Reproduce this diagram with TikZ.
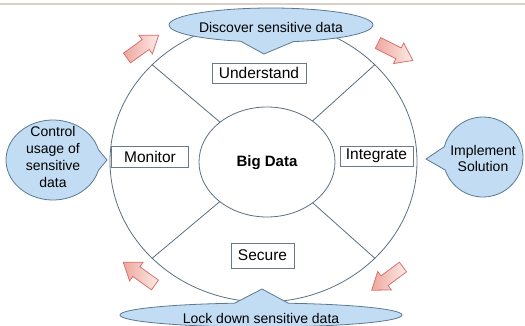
\documentclass[tikz,border=0pt]{standalone}
\usepackage{fontspec}
\setmainfont{Liberation Sans}
\usetikzlibrary{shapes.geometric,shapes.callouts}

\definecolor{ringline}{HTML}{5B6F80}
\definecolor{bubblefill}{HTML}{C2DDF3}
\definecolor{bubbleline}{HTML}{5A7894}
\definecolor{boxline}{HTML}{6A7A88}
\definecolor{arrowline}{HTML}{D7716F}
\definecolor{arrowlight}{HTML}{FDEBE7}
\definecolor{arrowdark}{HTML}{EDA79E}
\definecolor{rule}{HTML}{DCCFC8}

\tikzset{
  ring/.style={ellipse, draw=ringline, line width=0.8pt, inner sep=0pt},
  spoke/.style={draw=ringline, line width=0.8pt},
  stagebox/.style={draw=boxline, line width=0.7pt, fill=white, inner sep=0pt,
    font=\fontsize{15.5}{18}\selectfont},
  bubble/.style={ellipse callout, draw=bubbleline, fill=bubblefill, line width=0.8pt,
    inner sep=0pt},
  bubbletext/.style={align=center, inner sep=0pt,
    font=\fontsize{14}{16.7}\selectfont},
  flowarrow/.pic={
    \path[draw=arrowline, line width=0.8pt, left color=arrowdark, right color=arrowlight]
      (0,-6) -- (23,-6) -- (23,-11.5) -- (39,0) -- (23,11.5) -- (23,6) -- (0,6) -- cycle;
  }
}

\begin{document}
\begin{tikzpicture}[x=1pt,y=-1pt]
  \useasboundingbox (0,0) rectangle (525,326);
  \clip (0,0) rectangle (525,326);

  % header rule of the slide
  \draw[rule, line width=1.2pt] (0,4) -- (525,4);

  % outer ring and centre
  \node[ring, minimum width=307, minimum height=281] (outer) at (263.5,161.5) {};
  \foreach \a in {139,41,221,-41}
    \draw[spoke] (outer.\a) -- (267,162);
  \node[ring, fill=white, minimum width=136, minimum height=110] (big) at (267,162) {};
  \node[font=\fontsize{15}{18}\bfseries\selectfont, inner sep=0pt] (bigtext) at (267,163) {Big Data};

  % four stages
  \node[stagebox, minimum width=94, minimum height=20] (understand) at (259,73) {Understand};
  \node[stagebox, minimum width=77, minimum height=21] (monitor) at (150,156.5) {Monitor};
  \node[stagebox, minimum width=73, minimum height=20] (integrate) at (376.5,156) {Integrate};
  \node[stagebox, minimum width=63, minimum height=25] (secure) at (262.5,255.5) {Secure};

  % callouts
  \node[bubble, minimum width=204, minimum height=34, callout pointer arc=30,
        callout absolute pointer={(264,54)}] (discover) at (271,25) {};
  \node[bubbletext] (discovertext) at (271,27) {Discover sensitive data};

  \node[bubble, minimum width=282, minimum height=24, callout pointer arc=22,
        callout absolute pointer={(262,289)}] (lock) at (261,315) {};
  \node[bubbletext] (locktext) at (261,318) {Lock down sensitive data};

  \node[bubble, minimum width=94, minimum height=80, callout pointer arc=30,
        callout absolute pointer={(107,160)}] (control) at (53,160) {};
  \node[bubbletext] (controltext) at (53,157) {Control\\usage of\\sensitive\\data};

  \node[bubble, minimum width=80, minimum height=80, callout pointer arc=34,
        callout absolute pointer={(426,159)}] (implement) at (483,157) {};
  \node[bubbletext] (implementtext) at (483,158.5) {Implement\\Solution};

  % flow arrows round the ring
  \pic[rotate=35.7] at (127,58) {flowarrow};
  \pic[rotate=-26.6] at (378,43) {flowarrow};
  \pic[rotate=144.3] at (155,285) {flowarrow};
  \pic[rotate=216.6] at (403,267) {flowarrow};
\end{tikzpicture}
\end{document}
